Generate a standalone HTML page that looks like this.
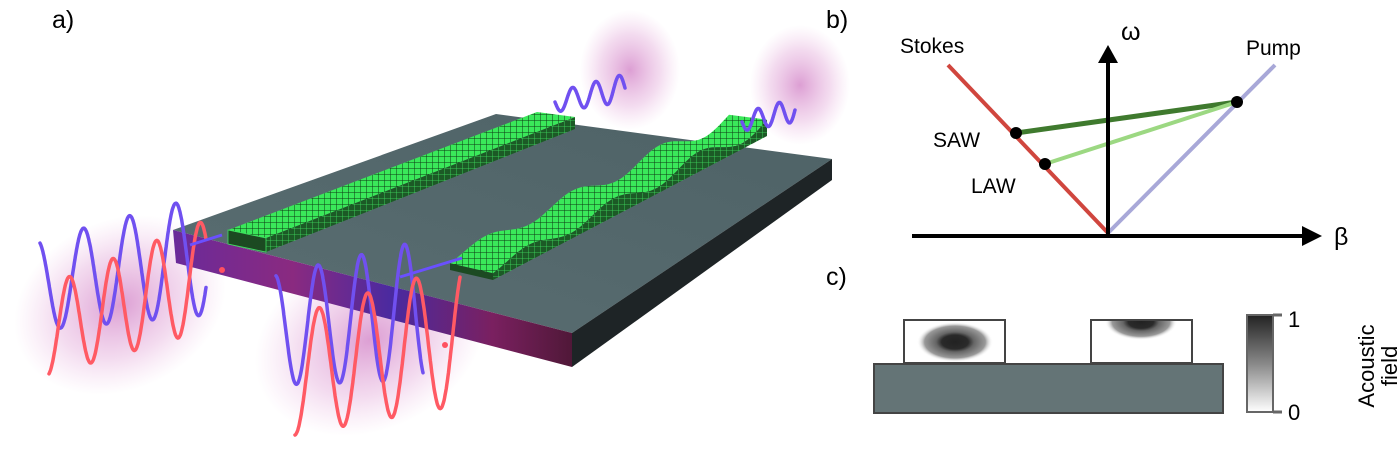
<!DOCTYPE html>
<html><head><meta charset="utf-8"><style>
html,body{margin:0;padding:0;background:#fff;width:1400px;height:465px;overflow:hidden;}
svg{display:block;font-family:"Liberation Sans",Arial,sans-serif;}
</style></head><body>
<svg id="s" width="1400" height="465" viewBox="0 0 1400 465" xmlns="http://www.w3.org/2000/svg" overflow="hidden">
<defs>
<radialGradient id="glow" cx="50%" cy="50%" r="50%">
<stop offset="0" stop-color="#c050b0" stop-opacity="0.55"/>
<stop offset="0.6" stop-color="#d070c0" stop-opacity="0.25"/>
<stop offset="1" stop-color="#e090d0" stop-opacity="0"/>
</radialGradient>
<linearGradient id="front" x1="0" y1="0" x2="1" y2="0">
<stop offset="0" stop-color="#6a2a9a"/>
<stop offset="0.3" stop-color="#8a2a80"/>
<stop offset="0.55" stop-color="#4a2aa0"/>
<stop offset="0.8" stop-color="#7a2060"/>
<stop offset="1" stop-color="#501838"/>
</linearGradient>
<linearGradient id="top" x1="0" y1="1" x2="1" y2="0">
<stop offset="0" stop-color="#5a6e72"/>
<stop offset="1" stop-color="#4e6266"/>
</linearGradient>
<pattern id="grid" width="6" height="6" patternUnits="userSpaceOnUse">
<rect width="6" height="6" fill="#3ae85a"/>
<path d="M0 0H6M0 0V6" stroke="#0e3a14" stroke-width="1"/>
</pattern>
<pattern id="grid2" width="6" height="6" patternUnits="userSpaceOnUse">
<rect width="6" height="6" fill="#1c5a26"/>
<path d="M0 0H6M0 0V6" stroke="#3fe060" stroke-width="0.8"/>
</pattern>
<radialGradient id="mode" cx="50%" cy="50%" r="50%">
<stop offset="0" stop-color="#222"/>
<stop offset="0.35" stop-color="#2a2a2a"/>
<stop offset="0.5" stop-color="#666"/>
<stop offset="0.8" stop-color="#999"/>
<stop offset="1" stop-color="#fff" stop-opacity="0"/>
</radialGradient>
<linearGradient id="cbar" x1="0" y1="0" x2="0" y2="1">
<stop offset="0" stop-color="#222"/>
<stop offset="0.5" stop-color="#888"/>
<stop offset="1" stop-color="#fff"/>
</linearGradient>
</defs>

<ellipse cx="120" cy="305" rx="110" ry="85" fill="url(#glow)" transform="rotate(-25 120 305)"/>
<ellipse cx="370" cy="340" rx="120" ry="90" fill="url(#glow)" transform="rotate(-25 370 340)"/>
<ellipse cx="630" cy="70" rx="50" ry="60" fill="url(#glow)"/>
<ellipse cx="800" cy="85" rx="50" ry="60" fill="url(#glow)"/>

<polygon points="173,230 496,114 832,159 572,333" fill="url(#top)"/>
<polygon points="572,333 832,159 832,180 572,367" fill="#1e2426"/>
<polygon points="173,230 572,333 572,367 176,263" fill="url(#front)"/>

<polygon points="228,244 266,252 575,129 575,117 266,238 228,230" fill="url(#grid2)"/>
<polygon points="228,230 266,238 575,117 537,112" fill="url(#grid)"/>
<polygon points="228,230 266,238 266,252 228,244" fill="#1c4a22" stroke="#3fe060" stroke-width="0.8"/>

<g id="wg2"></g>
<g id="waves" fill="none" stroke-width="3.5" stroke-linecap="round"></g>

<line x1="190" y1="245" x2="222" y2="235" stroke="#6a50ff" stroke-width="3"/>
<line x1="400" y1="277" x2="462" y2="258" stroke="#6a50ff" stroke-width="3"/>
<circle cx="222" cy="270" r="3" fill="#ff5060"/>
<circle cx="445" cy="345" r="3" fill="#ff5060"/>

<text x="52" y="28" font-size="25">a)</text>
<text x="826" y="28" font-size="25">b)</text>
<text x="826" y="285" font-size="25">c)</text>

<line x1="948" y1="65" x2="1108" y2="233" stroke="#d0463e" stroke-width="4"/>
<line x1="1108" y1="233" x2="1275" y2="65" stroke="#a8a8d8" stroke-width="4"/>
<line x1="1016" y1="133" x2="1237" y2="102" stroke="#3f7a2e" stroke-width="5"/>
<line x1="1045" y1="164" x2="1237" y2="102" stroke="#9cd882" stroke-width="4"/>
<line x1="912" y1="236" x2="1305" y2="236" stroke="#000" stroke-width="4"/>
<polygon points="1322,236 1302,226 1302,246" fill="#000"/>
<line x1="1108" y1="236" x2="1108" y2="60" stroke="#000" stroke-width="4"/>
<polygon points="1108,45 1098,63 1118,63" fill="#000"/>
<circle cx="1016" cy="133" r="6" fill="#000"/>
<circle cx="1045" cy="164" r="6" fill="#000"/>
<circle cx="1237" cy="102" r="6" fill="#000"/>
<text x="900" y="53" font-size="21">Stokes</text>
<text x="1246" y="55" font-size="21">Pump</text>
<text x="933" y="147" font-size="21">SAW</text>
<text x="971" y="193" font-size="21">LAW</text>
<text x="1121" y="40" font-size="25">ω</text>
<text x="1334" y="245" font-size="25">β</text>

<rect x="904" y="320" width="101" height="43" fill="#fff" stroke="#444" stroke-width="2"/>
<ellipse cx="955" cy="342" rx="38" ry="20" fill="url(#mode)"/>
<rect x="1091" y="320" width="101" height="43" fill="#fff" stroke="#444" stroke-width="2"/>
<clipPath id="bc"><rect x="1092" y="321" width="99" height="41"/></clipPath>
<ellipse cx="1141" cy="322" rx="36" ry="18" fill="url(#mode)" clip-path="url(#bc)"/>
<rect x="874" y="364" width="349" height="49" fill="#647476" stroke="#444" stroke-width="2"/>
<rect x="1247" y="315" width="26" height="97" fill="url(#cbar)" stroke="#666" stroke-width="2"/>
<line x1="1273" y1="315" x2="1282" y2="315" stroke="#666" stroke-width="3"/>
<line x1="1273" y1="412" x2="1282" y2="412" stroke="#666" stroke-width="3"/>
<text x="1288" y="327" font-size="22">1</text>
<text x="1288" y="420" font-size="22">0</text>
<text transform="translate(1374,366) rotate(-90)" font-size="22" text-anchor="middle">Acoustic</text>
<text transform="translate(1397,366) rotate(-90)" font-size="22" text-anchor="middle">field</text>
</svg>
<script>
var NS='http://www.w3.org/2000/svg';
var g=document.getElementById('waves');
function wave(x0,x1,c0,c1,a0,a1,cyc,ph,col){
 var p=[];for(var i=0;i<=300;i++){var t=i/300;
 var x=x0+t*(x1-x0),c=c0+t*(c1-c0),a=a0+t*(a1-a0);
 p.push(x.toFixed(1)+','+(c+a*Math.sin(2*Math.PI*cyc*t+ph)).toFixed(1));}
 var e=document.createElementNS(NS,'polyline');
 e.setAttribute('points',p.join(' '));e.setAttribute('stroke',col);g.appendChild(e);}
wave(40,206,285,255,45,60,3.6,-1.2,'#7050f0');
wave(49,206,330,275,45,55,3.6,1.8,'#ff5a64');
wave(276,423,330,310,55,70,3.4,-1.4,'#7050f0');
wave(295,460,375,335,60,70,3.4,1.6,'#ff5a64');
wave(555,625,102,88,10,14,3,0,'#7050f0');
wave(742,795,122,110,9,12,2.5,0,'#7050f0');
var w=document.getElementById('wg2');
var N=120,L=[],R=[];
for(var i=0;i<=N;i++){var t=i/N;
 var h=6+16*Math.pow(Math.sin(Math.PI*3.2*t+0.3),2)*(0.6+0.4*t);
 L.push([450+279*t,270-139*t-h]);R.push([493+274*t,280-144*t-h,280-144*t]);}
function s(p,k){return p[0].toFixed(1)+','+p[k].toFixed(1);}
var topP=L.map(function(p){return s(p,1);}).concat(R.slice().reverse().map(function(p){return s(p,1);}));
var sideP=R.map(function(p){return s(p,1);}).concat(R.slice().reverse().map(function(p){return s(p,2);}));
function poly(pts,f){var e=document.createElementNS(NS,'polygon');e.setAttribute('points',pts.join(' '));e.setAttribute('fill',f);w.appendChild(e);}
poly(sideP,'url(#grid2)');
poly(topP,'url(#grid)');
poly([s(L[0],1),s(R[0],1),s(R[0],2),L[0][0]+','+(L[0][1]+R[0][2]-R[0][1])],'#1c4a22');
</script>
</body></html>
